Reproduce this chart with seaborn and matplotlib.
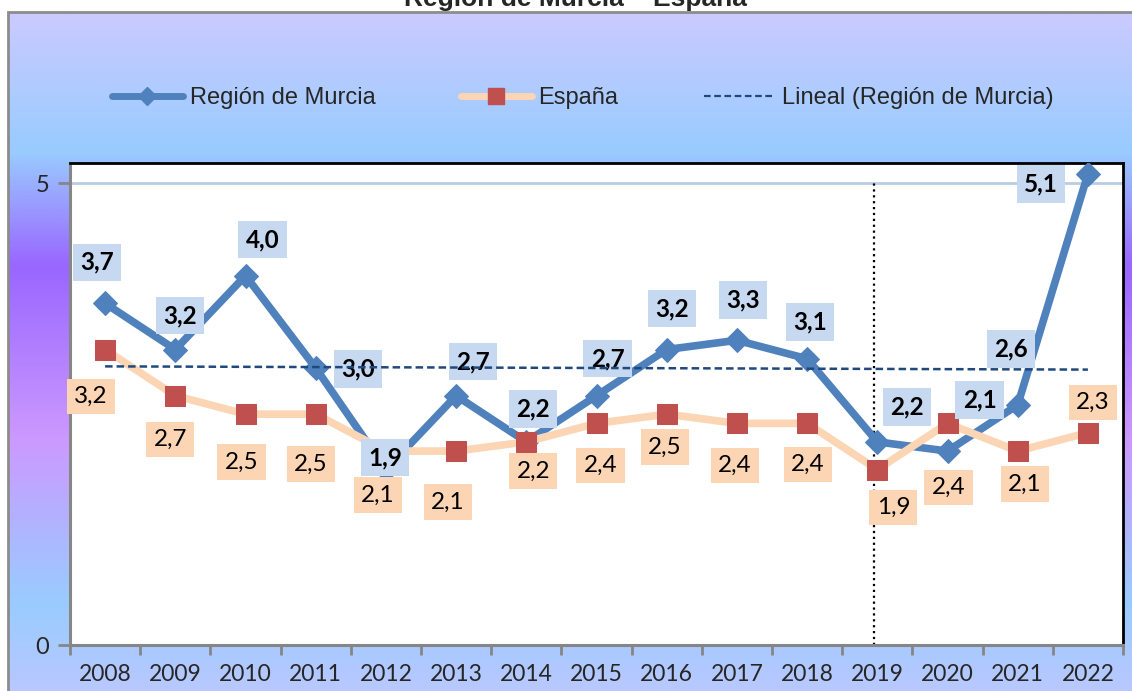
import numpy as np
import pandas as pd
import matplotlib
matplotlib.use("Agg")
import matplotlib.pyplot as plt
import seaborn as sns
from matplotlib.colors import LinearSegmentedColormap
from matplotlib.lines import Line2D
from matplotlib.patches import Rectangle

# Data
years = [2008, 2009, 2010, 2011, 2012, 2013, 2014, 2015, 2016, 2017, 2018, 2019, 2020, 2021, 2022]
murcia = [3.7, 3.2, 4.0, 3.0, 1.9, 2.7, 2.2, 2.7, 3.2, 3.3, 3.1, 2.2, 2.1, 2.6, 5.1]
espana = [3.2, 2.7, 2.5, 2.5, 2.1, 2.1, 2.2, 2.4, 2.5, 2.4, 2.4, 1.9, 2.4, 2.1, 2.3]

# label offsets (pixels) relative to each point
murcia_offsets = [(-8, 41), (5, 34), (17, 36), (42, -1), (-1, 12), (17, 34), (7, 33), (11, 37),
                  (5, 41), (6, 40), (3, 37), (30, 35), (32, 51), (-7, 56), (-47, -10)]
espana_offsets = [(-14, -47), (-5, -44), (-4, -48), (-5, -50), (-8, -44), (-8, -51), (7, -29), (4, -42),
                  (-2, -33), (-2, -42), (1, -41), (16, -38), (1, -64), (7, -33), (5, 30)]

MURCIA_C = "#4f81bd"
ESP_LINE = "#fcd5b4"
ESP_MARK = "#c0504d"
TREND_C = "#1f497d"

sns.set_style("white")
plt.rcParams['font.family'] = ['Lato', 'DejaVu Sans']

W, H = 1132, 691
fig = plt.figure(figsize=(W / 100, H / 100), dpi=100)

# gradient background inside the chart frame
stops = [(0.0, "#cacaff"), (0.203, "#99ccff"), (0.373, "#9966ff"),
         (0.63, "#cc99ff"), (0.873, "#99ccff"), (1.0, "#b8c8ff")]
cmap = LinearSegmentedColormap.from_list("bg", stops)
bg = fig.add_axes([8 / W, 0, 1 - 8 / W, (H - 12) / H], zorder=-5)
bg.imshow(np.linspace(0, 1, 400).reshape(-1, 1), cmap=cmap, aspect="auto", extent=[0, 1, 0, 1])
bg.set_axis_off()
fig.patches.append(Rectangle((8 / W, -0.01), 1, (H - 12) / H + 0.01, transform=fig.transFigure,
                             fill=False, edgecolor="#8c8c8c", linewidth=2, zorder=10))

# title is partly above the top edge, as in the original screenshot
fig.text(575 / W, 1 - 6 / H, "Región de Murcia – España", ha="center", va="baseline",
         fontsize=19, fontweight="bold", family=["Liberation Sans", "DejaVu Sans"])

ax = fig.add_axes([70 / W, 46 / H, (1123 - 70) / W, (645 - 163) / H])
ax.set_facecolor("white")

x = np.arange(len(years))
df = pd.DataFrame({"x": x, "Región de Murcia": murcia, "España": espana})

sns.lineplot(data=df, x="x", y="Región de Murcia", ax=ax, color=MURCIA_C, lw=5.5,
             marker="D", markersize=12, markeredgecolor=MURCIA_C, zorder=3)
sns.lineplot(data=df, x="x", y="España", ax=ax, color=ESP_LINE, lw=5.5,
             marker="s", markersize=15, markerfacecolor=ESP_MARK, markeredgecolor=ESP_MARK, zorder=4)
sns.regplot(x=x, y=np.array(murcia), ax=ax, scatter=False, ci=None, truncate=True,
            line_kws=dict(color=TREND_C, lw=1.8, ls=(0, (3, 1.6)), zorder=6))

# labels
for xi, v, (dx, dy) in zip(x, murcia, murcia_offsets):
    ax.annotate(f"{v:.1f}".replace(".", ","), (xi, v), xytext=(dx, dy), textcoords="offset pixels",
                ha="center", va="center", fontsize=17.5, fontweight="bold", color="black", zorder=5,
                bbox=dict(boxstyle="square,pad=0.3", fc="#c6d9f1", ec="none"))
for xi, v, (dx, dy) in zip(x, espana, espana_offsets):
    ax.annotate(f"{v:.1f}".replace(".", ","), (xi, v), xytext=(dx, dy), textcoords="offset pixels",
                ha="center", va="center", fontsize=17.5, color="black", zorder=5,
                bbox=dict(boxstyle="square,pad=0.3", fc="#fcd5b4", ec="none"))

# dotted separator at 2019
sep = years.index(2019) - 0.04
ax.plot([sep, sep], [0, 5.03], color="black", ls=":", lw=1.6, zorder=2)

ax.axhline(5, color="#b9cde5", lw=2, zorder=1)
ax.set_xlim(-0.5, len(years) - 0.5)
ax.set_ylim(0, 5.22)
ax.set_xlabel("")
ax.set_ylabel("")

ax.set_yticks([0, 5])
ax.set_yticklabels(["0", "5"])
ax.set_xticks(np.arange(-0.5, len(years)), labels=[""] * (len(years) + 1))
ax.set_xticks(x, labels=[str(y) for y in years], minor=True)
ax.tick_params(axis="x", which="major", length=7, width=2, color="#868686", direction="out")
ax.tick_params(axis="x", which="minor", length=0, pad=14, labelsize=16.5)
ax.tick_params(axis="y", length=9, width=2, color="#868686", direction="out", pad=6, labelsize=17)
ax.tick_params(left=True, bottom=True)

for s in ["left", "bottom"]:
    ax.spines[s].set_color("#868686")
    ax.spines[s].set_linewidth(2.2)
for s in ["top", "right"]:
    ax.spines[s].set_color("black")
    ax.spines[s].set_linewidth(2)

handles = [
    Line2D([], [], color=MURCIA_C, lw=5, marker="D", markersize=9, markeredgecolor=MURCIA_C),
    Line2D([], [], color=ESP_LINE, lw=5, marker="s", markersize=12, markerfacecolor=ESP_MARK, markeredgecolor=ESP_MARK),
    Line2D([], [], color=TREND_C, lw=1.6, ls=(0, (3, 1.6))),
]
fig.legend(handles, ["Región de Murcia", "España", "Lineal (Región de Murcia)"],
           loc="center left", bbox_to_anchor=(112 / W, 1 - 98 / H), ncol=3, frameon=False,
           borderpad=0, borderaxespad=0, handlelength=3, handletextpad=0.3, columnspacing=3.6,
           prop=dict(family=["Liberation Sans", "DejaVu Sans"], size=17))

fig.savefig("out.png", dpi=100)
